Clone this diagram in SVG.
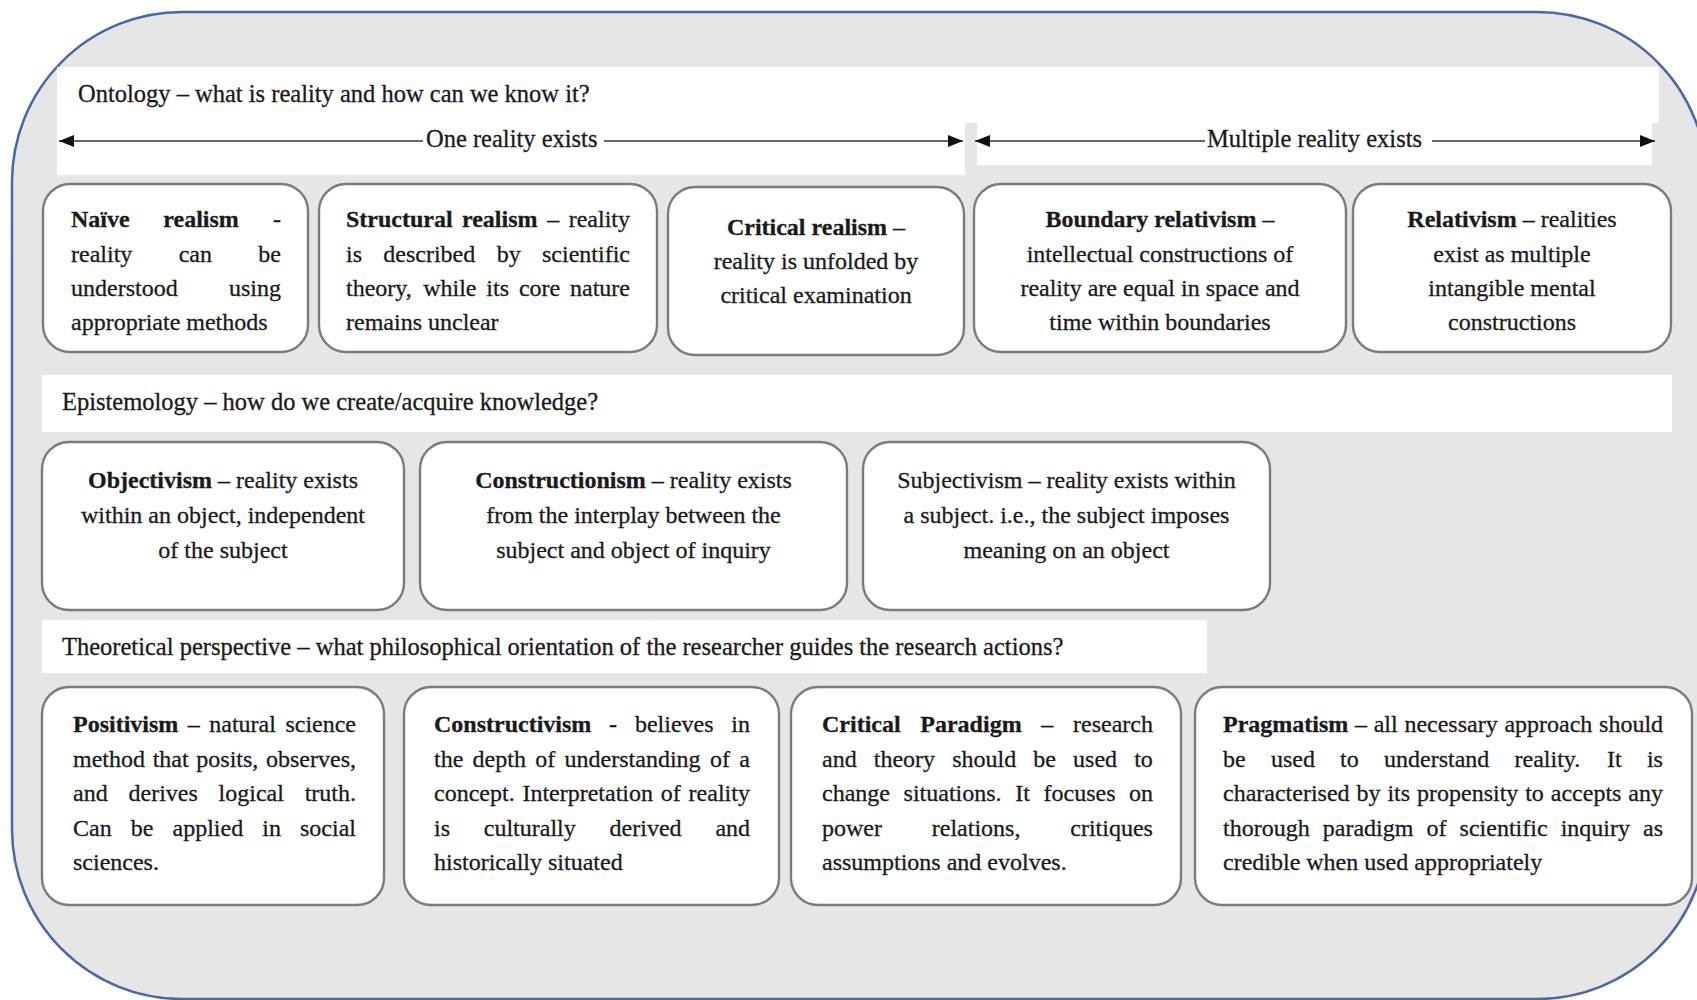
<svg xmlns="http://www.w3.org/2000/svg" width="1697" height="1000" viewBox="0 0 1697 1000">
<defs>
<style>
.t{font-family:"Liberation Serif","Times New Roman",serif;font-size:24px;fill:#1a1a1a;stroke:#1a1a1a;stroke-width:0.3}
.h{font-size:24.5px}
.b{font-weight:bold}
.m{text-anchor:middle}
.box{fill:#ffffff;stroke:#7c7c7c;stroke-width:2.4}
.band{fill:#ffffff}
.ln{stroke:#333333;stroke-width:1.6;fill:none}
</style>
<marker id="ah" markerUnits="userSpaceOnUse" markerWidth="16" markerHeight="13" refX="15" refY="6" orient="auto">
<path d="M0,0 L15,6 L0,12 Z" fill="#111111"/>
</marker>
</defs>
<rect x="0" y="0" width="1697" height="1000" fill="#ffffff"/>
<rect id="frame" x="12" y="12" width="1695" height="987" rx="170" ry="170" fill="#e6e6e6" stroke="#4a68a6" stroke-width="2.5"/>

<g id="ontology-band">
<path class="band" d="M57,67 H1659 V123 H1652 V165 H977 V123 H965 V175 H57 Z"/>
<text class="t h" x="78" y="102">Ontology – what is reality and how can we know it?</text>
<text class="t h" x="426" y="147">One reality exists</text>
<text class="t h" x="1207" y="147">Multiple reality exists</text>
</g>

<g id="connectors">
<line class="ln" x1="423" y1="141" x2="59" y2="141" marker-end="url(#ah)"/>
<line class="ln" x1="604" y1="141" x2="963" y2="141" marker-end="url(#ah)"/>
<line class="ln" x1="1205" y1="141" x2="975" y2="141" marker-end="url(#ah)"/>
<line class="ln" x1="1432" y1="141" x2="1655" y2="141" marker-end="url(#ah)"/>
</g>

<g id="naive-realism">
<rect class="box" x="43" y="184" width="265" height="168" rx="27"/>
<text class="t" y="227"><tspan class="b" x="71">Naïve</tspan><tspan class="b" x="163.3">realism</tspan><tspan x="273">-</tspan></text>
<text class="t" y="262"><tspan x="71">reality</tspan><tspan x="178.7">can</tspan><tspan x="258.3">be</tspan></text>
<text class="t" y="296"><tspan x="71">understood</tspan><tspan x="229">using</tspan></text>
<text class="t" x="71" y="330">appropriate methods</text>
</g>

<g id="structural-realism">
<rect class="box" x="319" y="184" width="338" height="168" rx="27"/>
<text class="t" y="227"><tspan class="b" x="346">Structural</tspan><tspan class="b" x="462">realism</tspan><tspan x="547.3">–</tspan><tspan x="568.7">reality</tspan></text>
<text class="t" y="262"><tspan x="346">is</tspan><tspan x="383.3">described</tspan><tspan x="496.7">by</tspan><tspan x="542">scientific</tspan></text>
<text class="t" y="296"><tspan x="346">theory,</tspan><tspan x="423.2">while</tspan><tspan x="486.3">its</tspan><tspan x="518.9">core</tspan><tspan x="570">nature</tspan></text>
<text class="t" x="346" y="330">remains unclear</text>
</g>

<g id="critical-realism">
<rect class="box" x="668" y="187" width="296" height="168" rx="27"/>
<text class="t m" x="816" y="235"><tspan class="b">Critical realism</tspan> –</text>
<text class="t m" x="816" y="269">reality is unfolded by</text>
<text class="t m" x="816" y="303">critical examination</text>
</g>

<g id="boundary-relativism">
<rect class="box" x="974" y="184" width="372" height="168" rx="27"/>
<text class="t m" x="1160" y="227"><tspan class="b">Boundary relativism</tspan> –</text>
<text class="t m" x="1160" y="262">intellectual constructions of</text>
<text class="t m" x="1160" y="296">reality are equal in space and</text>
<text class="t m" x="1160" y="330">time within boundaries</text>
</g>

<g id="relativism">
<rect class="box" x="1353" y="184" width="318" height="168" rx="27"/>
<text class="t m" x="1512" y="227"><tspan class="b">Relativism</tspan> – realities</text>
<text class="t m" x="1512" y="262">exist as multiple</text>
<text class="t m" x="1512" y="296">intangible mental</text>
<text class="t m" x="1512" y="330">constructions</text>
</g>

<g id="epistemology-band">
<rect class="band" x="42" y="375" width="1630" height="57"/>
<text class="t h" x="62" y="410">Epistemology – how do we create/acquire knowledge?</text>
</g>

<g id="objectivism">
<rect class="box" x="42" y="442" width="362" height="168" rx="27"/>
<text class="t m" x="223" y="488"><tspan class="b">Objectivism</tspan> – reality exists</text>
<text class="t m" x="223" y="523">within an object, independent</text>
<text class="t m" x="223" y="558">of the subject</text>
</g>

<g id="constructionism">
<rect class="box" x="420" y="442" width="427" height="168" rx="27"/>
<text class="t m" x="633.5" y="488"><tspan class="b">Constructionism</tspan> – reality exists</text>
<text class="t m" x="633.5" y="523">from the interplay between the</text>
<text class="t m" x="633.5" y="558">subject and object of inquiry</text>
</g>

<g id="subjectivism">
<rect class="box" x="863" y="442" width="407" height="168" rx="27"/>
<text class="t m" x="1066.5" y="488">Subjectivism – reality exists within</text>
<text class="t m" x="1066.5" y="523">a subject. i.e., the subject imposes</text>
<text class="t m" x="1066.5" y="558">meaning on an object</text>
</g>

<g id="theoretical-band">
<rect class="band" x="42" y="620" width="1165" height="53"/>
<text class="t h" x="62" y="655">Theoretical perspective – what philosophical orientation of the researcher guides the research actions?</text>
</g>

<g id="positivism">
<rect class="box" x="42" y="687" width="342" height="218" rx="27"/>
<text class="t" y="732"><tspan class="b" x="73">Positivism</tspan><tspan x="187.8">–</tspan><tspan x="209.3">natural</tspan><tspan x="285.4">science</tspan></text>
<text class="t" y="766.5"><tspan x="73">method</tspan><tspan x="152.7">that</tspan><tspan x="196.3">posits,</tspan><tspan x="266">observes,</tspan></text>
<text class="t" y="801"><tspan x="73">and</tspan><tspan x="128.5">derives</tspan><tspan x="218.6">logical</tspan><tspan x="304.7">truth.</tspan></text>
<text class="t" y="835.5"><tspan x="73">Can</tspan><tspan x="130.8">be</tspan><tspan x="172.5">applied</tspan><tspan x="262.3">in</tspan><tspan x="300">social</tspan></text>
<text class="t" x="73" y="870">sciences.</text>
</g>

<g id="constructivism">
<rect class="box" x="404" y="687" width="375" height="218" rx="27"/>
<text class="t" y="732"><tspan class="b" x="434">Constructivism</tspan><tspan x="609.1">-</tspan><tspan x="634.9">believes</tspan><tspan x="731.3">in</tspan></text>
<text class="t" y="766.5"><tspan x="434">the</tspan><tspan x="472.6">depth</tspan><tspan x="535.3">of</tspan><tspan x="564.6">understanding</tspan><tspan x="710">of</tspan><tspan x="739.3">a</tspan></text>
<text class="t" y="801"><tspan x="434">concept.</tspan><tspan x="522.4">Interpretation</tspan><tspan x="660.8">of</tspan><tspan x="688.6">reality</tspan></text>
<text class="t" y="835.5"><tspan x="434">is</tspan><tspan x="483.8">culturally</tspan><tspan x="609.6">derived</tspan><tspan x="715.4">and</tspan></text>
<text class="t" x="434" y="870">historically situated</text>
</g>

<g id="critical-paradigm">
<rect class="box" x="791" y="687" width="390" height="218" rx="27"/>
<text class="t" y="732"><tspan class="b" x="822">Critical</tspan><tspan class="b" x="920.3">Paradigm</tspan><tspan x="1041.3">–</tspan><tspan x="1073">research</tspan></text>
<text class="t" y="766.5"><tspan x="822">and</tspan><tspan x="873.8">theory</tspan><tspan x="952.2">should</tspan><tspan x="1033.3">be</tspan><tspan x="1073.1">used</tspan><tspan x="1134.2">to</tspan></text>
<text class="t" y="801"><tspan x="822">change</tspan><tspan x="903.6">situations.</tspan><tspan x="1015.2">It</tspan><tspan x="1043.5">focuses</tspan><tspan x="1129.1">on</tspan></text>
<text class="t" y="835.5"><tspan x="822">power</tspan><tspan x="931.8">relations,</tspan><tspan x="1070.3">critiques</tspan></text>
<text class="t" x="822" y="870">assumptions and evolves.</text>
</g>

<g id="pragmatism">
<rect class="box" x="1195" y="687" width="497" height="218" rx="27"/>
<text class="t" y="732"><tspan class="b" x="1223">Pragmatism</tspan><tspan x="1355">–</tspan><tspan x="1373.7">all</tspan><tspan x="1404.4">necessary</tspan><tspan x="1504.4">approach</tspan><tspan x="1599.1">should</tspan></text>
<text class="t" y="766.5"><tspan x="1223">be</tspan><tspan x="1270.9">used</tspan><tspan x="1340.1">to</tspan><tspan x="1384">understand</tspan><tspan x="1514.5">reality.</tspan><tspan x="1607">It</tspan><tspan x="1646.9">is</tspan></text>
<text class="t" y="801"><tspan x="1223">characterised</tspan><tspan x="1356.5">by</tspan><tspan x="1387.4">its</tspan><tspan x="1417">propensity</tspan><tspan x="1525.2">to</tspan><tspan x="1550.8">accepts</tspan><tspan x="1628.3">any</tspan></text>
<text class="t" y="835.5"><tspan x="1223">thorough</tspan><tspan x="1322.8">paradigm</tspan><tspan x="1426.5">of</tspan><tspan x="1459.6">scientific</tspan><tspan x="1560.7">inquiry</tspan><tspan x="1643.1">as</tspan></text>
<text class="t" x="1223" y="870">credible when used appropriately</text>
</g>
</svg>
